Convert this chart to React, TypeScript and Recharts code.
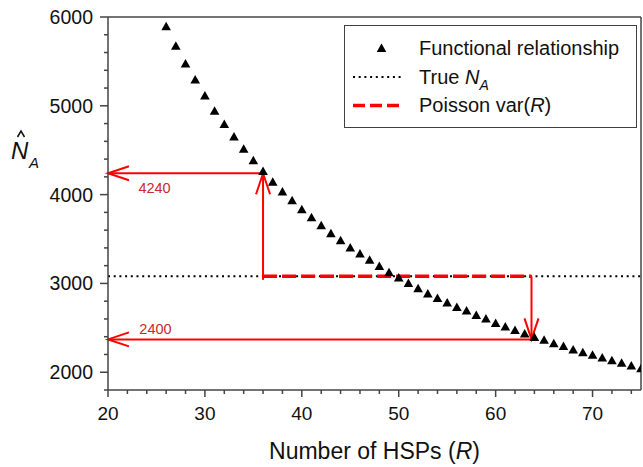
import {
  ScatterChart,
  Scatter,
  XAxis,
  YAxis,
  Legend,
  ReferenceLine,
  ReferenceDot,
  Label,
} from 'recharts';

// Number of HSPs (R) and the estimate
const hspCounts = [
  26, 27, 28, 29, 30, 31, 32, 33, 34, 35, 36, 37, 38, 39, 40, 41, 42, 43, 44, 45, 46, 47, 48, 49, 50,
  51, 52, 53, 54, 55, 56, 57, 58, 59, 60, 61, 62, 63, 64, 65, 66, 67, 68, 69, 70, 71, 72, 73, 74, 75,
];
const estimatedNA = [
  5890, 5670, 5470, 5290, 5110, 4940, 4790, 4650, 4510, 4380, 4260, 4140, 4030, 3930, 3830, 3740,
  3650, 3560, 3480, 3400, 3330, 3260, 3190, 3120, 3060, 3000, 2940, 2880, 2830, 2780, 2730, 2690,
  2640, 2600, 2550, 2510, 2470, 2430, 2390, 2360, 2320, 2290, 2250, 2220, 2190, 2160, 2130, 2100,
  2070, 2040,
];

const xTicks = [20, 22, 24, 26, 28, 30, 32, 34, 36, 38, 40, 42, 44, 46, 48, 50, 52, 54, 56, 58, 60, 62, 64, 66, 68, 70, 72, 74];
const yTicks = [1800, 2000, 2200, 2400, 2600, 2800, 3000, 3200, 3400, 3600, 3800, 4000, 4200, 4400, 4600, 4800, 5000, 5200, 5400, 5600, 5800, 6000];

// annotation values
const trueNA = 3080;
const lowR = 36;
const highR = 63.7;
const upperNA = 4240;
const lowerNA = 2370;
const upperLabel = '4240';
const lowerLabel = '2400';

const data = hspCounts.map((r, i) => ({ r, n: estimatedNA[i] }));

const AXIS = '#444';
const RED = '#ff0000';
const FONT = '"Liberation Sans", Arial, sans-serif';

const Triangle = (props: any) => {
  const { cx, cy } = props;
  return (
    <polygon
      points={`${cx},${cy - 5} ${cx + 4.8},${cy + 3.5} ${cx - 4.8},${cy + 3.5}`}
      fill="#000"
    />
  );
};

const XTick = (props: any) => {
  const { x, y, payload } = props;
  const major = payload.value % 10 === 0;
  return (
    <g>
      <line x1={x} y1={y} x2={x} y2={y + (major ? 7 : 4)} stroke={AXIS} strokeWidth={1.5} />
      {major && (
        <text x={x} y={y + 30} textAnchor="middle" fontSize={19} fill="#111">
          {payload.value}
        </text>
      )}
    </g>
  );
};

const YTick = (props: any) => {
  const { x, y, payload } = props;
  const major = payload.value % 1000 === 0;
  return (
    <g>
      <line x1={x} y1={y} x2={x - (major ? 8 : 4)} y2={y} stroke={AXIS} strokeWidth={1.5} />
      {major && (
        <text x={x - 15} y={y + 7} textAnchor="end" fontSize={19.5} fill="#111">
          {payload.value}
        </text>
      )}
    </g>
  );
};

// red line with an open arrow head at its end point
const Arrow = (props: any) => {
  const { x1, y1, x2, y2 } = props;
  const len = Math.hypot(x2 - x1, y2 - y1) || 1;
  const ux = (x2 - x1) / len;
  const uy = (y2 - y1) / len;
  const bx = x2 - ux * 21;
  const by = y2 - uy * 21;
  const px = -uy * 7;
  const py = ux * 7;
  return (
    <g>
      <line x1={x1} y1={y1} x2={x2} y2={y2} stroke={RED} strokeWidth={2} />
      <polyline
        points={`${bx + px},${by + py} ${x2},${y2} ${bx - px},${by - py}`}
        fill="none"
        stroke={RED}
        strokeWidth={2}
      />
    </g>
  );
};

const LegendBox = () => (
  <div
    style={{
      width: 293,
      height: 103,
      border: '1.5px solid #404040',
      boxSizing: 'border-box',
      background: '#fff',
      fontFamily: FONT,
    }}
  >
    <svg width={290} height={100} style={{ display: 'block' }}>
      <polygon points="36.5,17.5 41.3,26 31.7,26" fill="#000" />
      <text x={74} y={29} fontSize={20} fill="#111">Functional relationship</text>
      <line x1={8} x2={57} y1={51} y2={51} stroke="#000" strokeWidth={2} strokeDasharray="2 3.7" />
      <text x={74} y={58} fontSize={20} fill="#111">
        True <tspan fontStyle="italic">N</tspan>
        <tspan fontStyle="italic" fontSize={14} dy={6}>A</tspan>
      </text>
      <line x1={8} x2={56} y1={79.5} y2={79.5} stroke={RED} strokeWidth={3.5} strokeDasharray="12 5" />
      <text x={74} y={86} fontSize={20} fill="#111">
        Poisson var(<tspan fontStyle="italic">R</tspan>)
      </text>
    </svg>
  </div>
);

const YTitle = () => (
  <g fill="#111">
    <text x={11} y={159} fontSize={24} fontStyle="italic">N</text>
    <polyline points="17.5,137 21,131 24.5,137" fill="none" stroke="#111" strokeWidth={1.5} />
    <text x={29} y={168} fontSize={15} fontStyle="italic">A</text>
  </g>
);

const XTitle = (props: any) => {
  const { viewBox } = props;
  return (
    <text x={viewBox.x + viewBox.width / 2} y={459} textAnchor="middle" fontSize={23} fill="#111">
      Number of HSPs (<tspan fontStyle="italic">R</tspan>)
    </text>
  );
};

const Note = (text: string) => (props: any) => {
  const { viewBox } = props;
  return (
    <text x={viewBox.x} y={viewBox.y + 5} textAnchor="middle" fontSize={14.5} fill="#c62a2f">
      {text}
    </text>
  );
};

export default function App() {
  return (
    <div style={{ position: 'absolute', left: 0, top: 0, fontFamily: FONT }}>
      <ScatterChart width={643} height={467} margin={{ top: 17, right: 2, left: 48, bottom: 47 }}>
        <XAxis
          type="number"
          dataKey="r"
          domain={[20, 75]}
          ticks={xTicks}
          interval={0}
          allowDataOverflow
          height={30}
          tickSize={0}
          tickMargin={0}
          tick={<XTick />}
          axisLine={{ stroke: AXIS, strokeWidth: 1.5 }}
        >
          <Label content={<XTitle />} />
        </XAxis>
        <YAxis
          type="number"
          dataKey="n"
          domain={[1800, 6000]}
          ticks={yTicks}
          interval={0}
          allowDataOverflow
          width={60}
          tickSize={0}
          tickMargin={0}
          tick={<YTick />}
          axisLine={{ stroke: AXIS, strokeWidth: 1.5 }}
        >
          <Label content={<YTitle />} />
        </YAxis>
        <ReferenceLine y={6000} stroke={AXIS} strokeWidth={1.5} />
        <ReferenceLine x={75} stroke={AXIS} strokeWidth={1.5} />
        <ReferenceLine y={trueNA} stroke="#000" strokeWidth={2} strokeDasharray="2 3.7" />
        <ReferenceLine
          segment={[{ x: lowR, y: trueNA }, { x: highR, y: trueNA }]}
          stroke={RED}
          strokeWidth={3.5}
          strokeDasharray="14 5"
        />
        <ReferenceLine segment={[{ x: lowR, y: 3040 }, { x: lowR, y: upperNA }]} shape={<Arrow />} />
        <ReferenceLine segment={[{ x: lowR, y: upperNA }, { x: 20, y: upperNA }]} shape={<Arrow />} />
        <ReferenceLine segment={[{ x: highR, y: trueNA }, { x: highR, y: lowerNA }]} shape={<Arrow />} />
        <ReferenceLine segment={[{ x: highR, y: lowerNA }, { x: 20, y: lowerNA }]} shape={<Arrow />} />
        <ReferenceDot x={24.8} y={4070} r={0} fill="none" stroke="none" label={{ content: Note(upperLabel) }} />
        <ReferenceDot x={24.9} y={2490} r={0} fill="none" stroke="none" label={{ content: Note(lowerLabel) }} />
        <Scatter data={data} shape={<Triangle />} isAnimationActive={false} />
        <Legend
          layout="vertical"
          align="center"
          verticalAlign="middle"
          content={<LegendBox />}
          wrapperStyle={{ left: 344, top: 25, width: 293 }}
        />
      </ScatterChart>
    </div>
  );
}
